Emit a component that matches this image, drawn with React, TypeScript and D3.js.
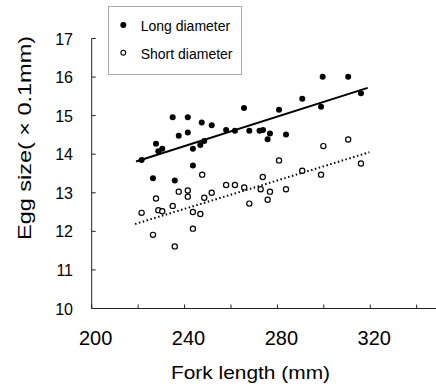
import React from "react";
import * as d3 from "d3";

const longX = [221.5, 227.7, 228.7, 230.4, 226.4, 235.8, 234.9, 241.4, 237.5, 241.4, 243.6, 243.6, 246.8, 248.5, 247.4, 251.7, 257.9, 261.7, 265.6, 267.9, 272.3, 273.8, 276.8, 275.8, 280.7, 283.7, 290.7, 298.8, 299.5, 310.5, 316.0];
const longY = [13.85, 14.27, 14.08, 14.14, 13.38, 13.32, 14.96, 14.96, 14.48, 14.56, 14.14, 13.71, 14.24, 14.34, 14.82, 14.75, 14.63, 14.61, 15.2, 14.61, 14.61, 14.63, 14.54, 14.39, 15.15, 14.51, 15.44, 15.23, 16.01, 16.01, 15.58];

const shortX = [221.5, 226.4, 227.7, 228.7, 230.4, 234.9, 235.8, 237.5, 241.4, 241.4, 243.6, 243.6, 246.8, 247.6, 248.5, 251.7, 257.9, 261.7, 265.7, 267.9, 272.8, 273.7, 276.8, 275.8, 280.7, 283.7, 290.7, 298.8, 299.8, 310.5, 316.0];
const shortY = [12.48, 11.91, 12.85, 12.55, 12.52, 12.66, 11.61, 13.03, 13.06, 12.9, 12.5, 12.07, 12.45, 13.47, 12.87, 13.0, 13.2, 13.2, 13.14, 12.72, 13.09, 13.41, 13.03, 12.82, 13.84, 13.09, 13.57, 13.47, 14.21, 14.38, 13.76];

const longTrendX = [219.1, 318.9];
const longTrendY = [13.81, 15.72];
const shortTrendX = [218.7, 319.6];
const shortTrendY = [12.19, 14.05];

const xTicks = [200, 220, 240, 260, 280, 300, 320, 340, 360];
const xTickLabels = [200, 240, 280, 320];
const yTicks = [10, 11, 12, 13, 14, 15, 16, 17];
const legendLabels = ["Long diameter", "Short diameter"];

export default function App() {
  const W = 436, H = 387;
  const x = d3.scaleLinear().domain([200, 360]).range([91.7, 463.1]);
  const y = d3.scaleLinear().domain([10, 17]).range([308.5, 38.5]);
  const font = "'Liberation Sans', Arial, sans-serif";
  const trend = (xs: number[], ys: number[]) =>
    d3.line<[number, number]>().x((d) => x(d[0])).y((d) => y(d[1]))(xs.map((v, i) => [v, ys[i]]) as [number, number][]) || "";
  return (
    <svg width={W} height={H} style={{ position: "absolute", left: 0, top: 0, background: "#fff" }}>
      <rect x={0} y={0} width={W} height={H} fill="#fff" />
      <line x1={x(200)} x2={W} y1={y(10)} y2={y(10)} stroke="#222" strokeWidth={1} />
      <line x1={x(200)} x2={x(200)} y1={y(10)} y2={y(17)} stroke="#222" strokeWidth={1} />
      {yTicks.map((t) => (
        <g key={"yt" + t}>
          <line x1={x(200)} x2={x(200) + 4} y1={y(t)} y2={y(t)} stroke="#222" />
          <text x={73} y={y(t) + 6} textAnchor="end" fontFamily={font} fontSize={16} fill="#000">{t}</text>
        </g>
      ))}
      {xTicks.map((t) => (
        <line key={"xt" + t} x1={x(t)} x2={x(t)} y1={y(10)} y2={y(10) - 4} stroke="#222" />
      ))}
      {xTickLabels.map((t) => (
        <text key={"xl" + t} x={x(t) + 4} y={345} textAnchor="middle" fontFamily={font} fontSize={20} fill="#000">{t}</text>
      ))}
      <text x={171} y={379} fontFamily={font} fontSize={19} fill="#000" textLength={159} lengthAdjust="spacingAndGlyphs">Fork length (mm)</text>
      <text transform={`translate(31,240) rotate(-90)`} fontFamily={font} fontSize={19} fill="#000" textLength={204} lengthAdjust="spacingAndGlyphs">Egg size( × 0.1mm)</text>
      <path d={trend(longTrendX, longTrendY)} stroke="#000" strokeWidth={2} fill="none" />
      <path d={trend(shortTrendX, shortTrendY)} stroke="#000" strokeWidth={2} strokeDasharray="1.5,2.5" fill="none" />
      {longX.map((v, i) => (
        <circle key={"l" + i} cx={x(v)} cy={y(longY[i])} r={3} fill="#000" />
      ))}
      {shortX.map((v, i) => (
        <circle key={"s" + i} cx={x(v)} cy={y(shortY[i])} r={2.6} fill="#fff" stroke="#000" strokeWidth={1.2} />
      ))}
      <rect x={108.5} y={6.5} width={133} height={68} fill="#fff" stroke="#555" strokeWidth={1} strokeDasharray="1,1" />
      <circle cx={123.3} cy={25} r={3} fill="#000" />
      <circle cx={123.3} cy={52.7} r={2.4} fill="#fff" stroke="#000" strokeWidth={1.1} />
      {legendLabels.map((l, i) => (
        <text key={l} x={140.7} y={31 + i * 27.7} fontFamily={font} fontSize={14} fill="#000">{l}</text>
      ))}
    </svg>
  );
}
